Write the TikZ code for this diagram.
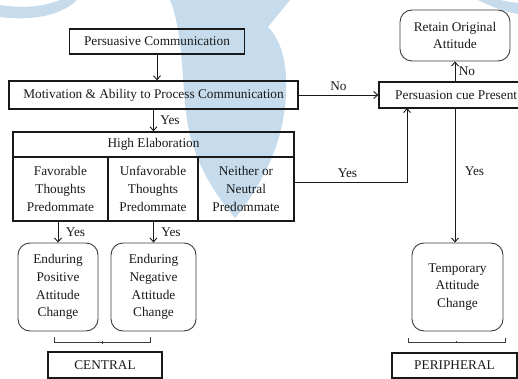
\documentclass[tikz,border=0pt]{standalone}
\usepackage{fontspec}
\setmainfont{Liberation Serif}
\usetikzlibrary{arrows.meta,calc}
\definecolor{wm}{RGB}{198,220,237}
\definecolor{ink}{RGB}{25,25,25}
\definecolor{rink}{RGB}{60,60,60}
\begin{document}
\begin{tikzpicture}[x=1pt,y=-1pt,
  txt/.style={font=\fontsize{13.3}{17.7}\selectfont, text=ink},
  box/.style={txt, draw=ink, line width=1.3pt, inner sep=0pt, align=center},
  rbox/.style={txt, draw=rink, line width=0.9pt, rounded corners=12pt, inner sep=0pt, align=center},
  arr/.style={draw=ink, line width=0.9pt, -{Straight Barb[length=4pt,width=7pt]}},
  brk/.style={draw=rink, line width=0.8pt},
  lbl/.style={txt}]
\useasboundingbox (0,0) rectangle (518,379);
\clip (0,0) rectangle (518,379);
% watermark
\fill[wm] (170,0) .. controls (186,40) and (180,95) .. (190,135) .. controls (200,175) and (222,202) .. (235,218)
  .. controls (252,198) and (276,160) .. (283,120) .. controls (290,80) and (286,45) .. (268,27) -- (290,0) -- cycle;
\fill[wm] (0,5) .. controls (25,9) and (45,6) .. (60,0) -- (77,0) .. controls (65,12) and (40,22) .. (0,17) -- cycle;
\fill[wm] (478,0) .. controls (492,7) and (505,12) .. (518,14) -- (518,3) .. controls (510,2) and (505,1) .. (500,0) -- cycle;
% nodes
\node[box, minimum width=175, minimum height=25] (pc) at (157,41.5) {Persuasive Communication};
\node[box, minimum width=289, minimum height=28] (mot) at (153.5,95) {Motivation \& Ability to Process Communication};
\node[box, minimum width=161, minimum height=26] (pcp) at (459.5,95) {};
\node[txt, anchor=west, inner sep=0pt] (pcpt) at (395,95) {Persuasion cue Present};
\node[rbox, minimum width=110, minimum height=51] (ret) at (455,35.5) {Retain Original\\Attitude};
\node[box, minimum width=281, minimum height=25] (he) at (153.5,144.5) {High Elaboration};
\node[box, minimum width=95, minimum height=64] (c1) at (60.5,189) {Favorable\\Thoughts\\Predommate};
\node[box, minimum width=90, minimum height=64] (c2) at (153,189) {Unfavorable\\Thoughts\\Predommate};
\node[box, minimum width=96, minimum height=64] (c3) at (246,189) {Neither or\\Neutral\\Predommate};
\node[rbox, minimum width=80, minimum height=88] (ep) at (58,287) {Enduring\\Positive\\Attitude\\Change};
\node[rbox, minimum width=85, minimum height=88] (en) at (153.5,287) {Enduring\\Negative\\Attitude\\Change};
\node[rbox, minimum width=91, minimum height=88] (temp) at (457.5,287) {Temporary\\Attitude\\Change};
\node[box, minimum width=114, minimum height=26] (central) at (105,365) {CENTRAL};
\node[box, minimum width=125, minimum height=25] (periph) at (454.5,365.5) {PERIPHERAL};
\coordinate (cx) at (455,0);
\coordinate (cueIn) at (407,108);
% connectors
\draw[arr] (pc.south) -- (pc.south |- mot.north);
\draw[arr] (mot.south) -- (mot.south |- he.north) node[lbl, midway, right, xshift=3pt] {Yes};
\draw[arr] (mot.east) -- (mot.east -| pcp.west) node[lbl, midway, above, yshift=1pt] {No};
\draw[arr] (pcp.north -| ret.south) -- (ret.south) node[lbl, midway, right, xshift=0pt] {No};
\draw[arr] ([yshift=7pt]c3.east) -| (cueIn) node[lbl, pos=0.235, above, yshift=1pt] {Yes};
\draw[arr] (pcp.south -| cx) -- (temp.north -| cx) node[lbl, pos=0.47, right, xshift=6pt] {Yes};
\draw[arr] (c1.south -| ep.north) -- (ep.north) node[lbl, midway, right, xshift=4pt] {Yes};
\draw[arr] (c2.south -| en.north) -- (en.north) node[lbl, midway, right, xshift=4pt] {Yes};
% brackets
\coordinate (bl1) at (54,337); \coordinate (br1) at (150,337);
\coordinate (bl2) at (408,338); \coordinate (br2) at (505,338);
\draw[brk] (bl1) -- ++(0,5) -- ($(br1)+(0,5)$) -- (br1);
\draw[brk] ($(central.north)+(-3,-10)$) -- ($(central.north)+(-3,-7)$);
\draw[brk] (bl2) -- ++(0,4) -- ($(br2)+(0,4)$) -- (br2);
\draw[brk] ($(periph.north)+(1.5,-11)$) -- ($(periph.north)+(1.5,-9)$);
\end{tikzpicture}
\end{document}
